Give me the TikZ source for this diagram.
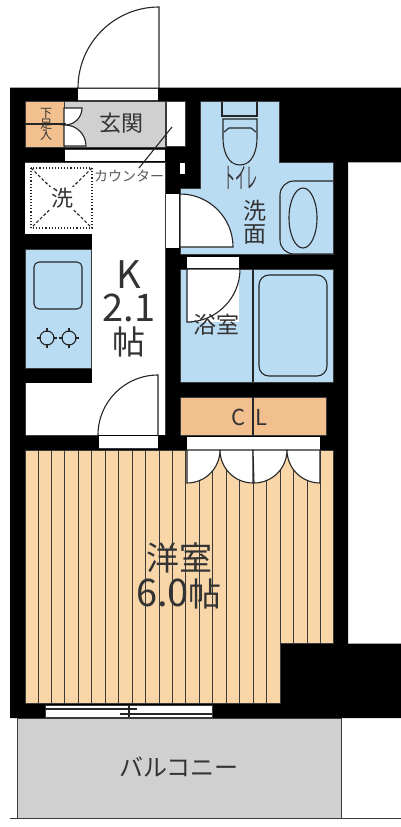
\documentclass[tikz,border=0pt]{standalone}
\usepackage{fontspec}
\setmainfont{Noto Sans CJK JP}
\definecolor{wetblue}{HTML}{B9DCF2}
\definecolor{boxorange}{HTML}{F2C08F}
\definecolor{floorwood}{HTML}{F8D6A8}
\definecolor{tilegrey}{HTML}{D0D0D0}
\definecolor{edgegrey}{HTML}{3A3A3A}
\newcommand{\bigdigits}[1]{{\fontsize{38}{33}\selectfont #1}}
\tikzset{
  lbl/.style={inner sep=0pt,text=black!80,align=center,font=\fontsize{#1}{#1}\selectfont},
  thinline/.style={draw=edgegrey,line width=.8pt},
  fixture/.style={draw=black!85,line width=1.1pt},
  door/.style={draw=black!85,line width=1.1pt,fill=white}
}
\begin{document}
\begin{tikzpicture}[x=1pt,y=1pt,yscale=-1]
      \useasboundingbox (0,0) rectangle (401,827);
      \coordinate(A) at (10,87);
      \coordinate(B) at (401,87);
      \coordinate(C) at (401,162);
      \coordinate(D) at (348,162);
      \coordinate(E) at (348,643);
      \coordinate(F) at (401,643);
      \coordinate(G) at (401,718);
      \coordinate(H) at (10,718);
      % walls
      \fill[black] (A)--(B)--(C)--(D)--(E)--(F)--(G)--(H)--cycle;
      \draw[line width=.6pt,black!35] (A)--(B) (D)--(C) (E)--(F);
      % balcony
      \draw[thinline,fill=tilegrey] (17,718) rectangle (341,818);
      \draw[line width=.8pt,edgegrey] (10,818)--(401,818);
      % entrance
      \fill[white] (78,88) rectangle (158,100);
      \draw[thinline] (78,88)--(158,88) (78,100)--(158,100);
      \draw[fixture] (78,88) arc[start angle=180,end angle=270,radius=81]--(159,88);
      \draw[thinline,fill=boxorange] (25,101) rectangle (64,147);
      \draw[thinline,fill=tilegrey] (64,101) rectangle (165,147);
      \draw[thinline,fill=white] (166,101) rectangle (185,146);
      \draw[door] (64,108)--(82,108) arc[start angle=0,end angle=90,radius=17]
        arc[start angle=-90,end angle=0,radius=21]--(64,146)--cycle;
      \draw[fixture] (25,124)--(66,124);
      \fill[white] (65,149) rectangle (165,161);
      \draw[thinline] (65,149)--(165,149);
      % kitchen
      \fill[white] (25,162) rectangle (165,234);
      \fill[white] (92,234) rectangle (165,383);
      \fill[white] (25,383) rectangle (165,435);
      \draw[thinline] (25,162)--(165,162) (165,162)--(165,435) (25,383)--(25,435)--(98,435);
      \draw[fixture,dotted,line width=1.5pt] (31,168) rectangle (92,228);
      \draw[fixture,dash pattern=on 3pt off 2pt] (31,168)--(92,228) (92,168)--(31,228);
      \draw[thinline,fill=wetblue] (25,249) rectangle (91,368);
      \draw[fixture,rounded corners=5pt] (34,262) rectangle (82,309);
      \foreach \x in {47,69}{
        \draw[fixture] (\x,338) circle[radius=7];
        \draw[fixture] (\x-10,338)--(\x-6,338) (\x+6,338)--(\x+10,338) (\x,328)--(\x,332) (\x,344)--(\x,348);
      }
      % lower kitchen door
      \fill[white] (99,436) rectangle (158,448);
      \draw[thinline] (99,448)--(158,448);
      \draw[fixture] (98,435) arc[start angle=180,end angle=270,radius=60]--(158,436);
      % toilet and washroom
      \fill[wetblue] (200,101)--(279,101)--(279,162)--(333,162)--(333,254)--(180,254)--(180,188)--(200,188)--cycle;
      \draw[thinline] (200,101)--(279,101)--(279,162)--(333,162)--(333,254)--(180,254)--(180,188)--(200,188)--cycle;
      \fill[white] (180,163) rectangle (185,174);
      \draw[fixture] (222,102)--(222,116)--(257,116)--(257,102);
      \draw[fixture] (223,119)--(257,119)--(257,138) to[out=90,in=0] (240,165) to[out=180,in=90] (223,138)--cycle;
      \draw[fixture] (224,132)--(229,128)--(251,128)--(256,132);
      \draw[fixture,rounded corners=14pt] (333,181)--(280,181)--(280,254)--(333,254);
      \draw[fixture] (303,218) ellipse[x radius=14,y radius=30];
      \fill[white] (166,194) rectangle (179,248);
      \draw[door] (180,194) arc[start angle=-90,end angle=0,radius=53]--(180,247)--cycle;
      % bath
      \fill[white] (187,257) rectangle (239,268);
      \draw[thinline,fill=wetblue] (180,269) rectangle (333,382);
      \draw[fixture] (253,269)--(253,382);
      \draw[fixture,rounded corners=10pt] (259,275) rectangle (327,376);
      \fill[white] (187,269) rectangle (239,322);
      \draw[door] (240,269) arc[start angle=0,end angle=90,radius=53]--(192,322)--(187,322)--(187,269)--cycle;
      % closet
      \draw[thinline,fill=boxorange] (180,397) rectangle (326,435);
      \draw[fixture] (253,397)--(253,435);
      \fill[white] (187,437) rectangle (320,450);
      % floor
      \draw[thinline,fill=floorwood] (25,450)--(333,450)--(333,643)--(280,643)--(280,703)--(25,703)--cycle;
      \foreach \n in {0,...,18}{
        \draw[line width=1pt,edgegrey] (38+13.45*\n,450)--(38+13.45*\n,703);
      }
      \foreach \n in {19,...,21}{
        \draw[line width=1pt,edgegrey] (38+13.45*\n,450)--(38+13.45*\n,643);
      }
      % closet doors
      \draw[door] (187,450)--(220,450) arc[start angle=0,end angle=90,radius=33]--cycle;
      \draw[door] (220,450)--(253,450)--(253,483) arc[start angle=90,end angle=180,radius=33];
      \draw[door] (253,450)--(287,450) arc[start angle=0,end angle=90,radius=33]--cycle;
      \draw[door] (287,450)--(320,450)--(320,483) arc[start angle=90,end angle=180,radius=33];
      % window
      \draw[thinline,fill=white] (45,705) rectangle (212,717);
      \draw[fixture] (45,709)--(137,709) (120,714)--(212,714) (129,705)--(129,717);
      % counter leader
      \draw[fixture] (172,127)--(139,168);
      % labels
      \node[lbl=22] (genkan) at (121,123) {玄関};
      \node[lbl=12] (shoebox) at (46,124) {下\\[-1pt]足\\[-1pt]入};
      \node[lbl=14,text=black!65] (counter) at (129,176) {カウンター};
      \node[lbl=22,fill=white,inner sep=1pt] (washer) at (62,198) {洗};
      \node[lbl=33] (kitchen) at (129,309) {\bigdigits{K}\\\bigdigits{2.1}\\帖};
      \node[lbl=22,xscale=.5,yscale=-1.3,transform shape] (toilet) at (241,178) {トイレ};
      \node[lbl=23] (wash) at (255,222) {洗\\面};
      \node[lbl=23] (bath) at (216,325) {浴室};
      \node[lbl=22] (closet) at (249,417) {C\hspace{10pt}L};
      \node[lbl=33] (room) at (179,576) {洋室\\[3pt]\bigdigits{6.0}帖};
      \node[lbl=24] (balcony) at (179,767) {バルコニー};
\end{tikzpicture}
\end{document}
